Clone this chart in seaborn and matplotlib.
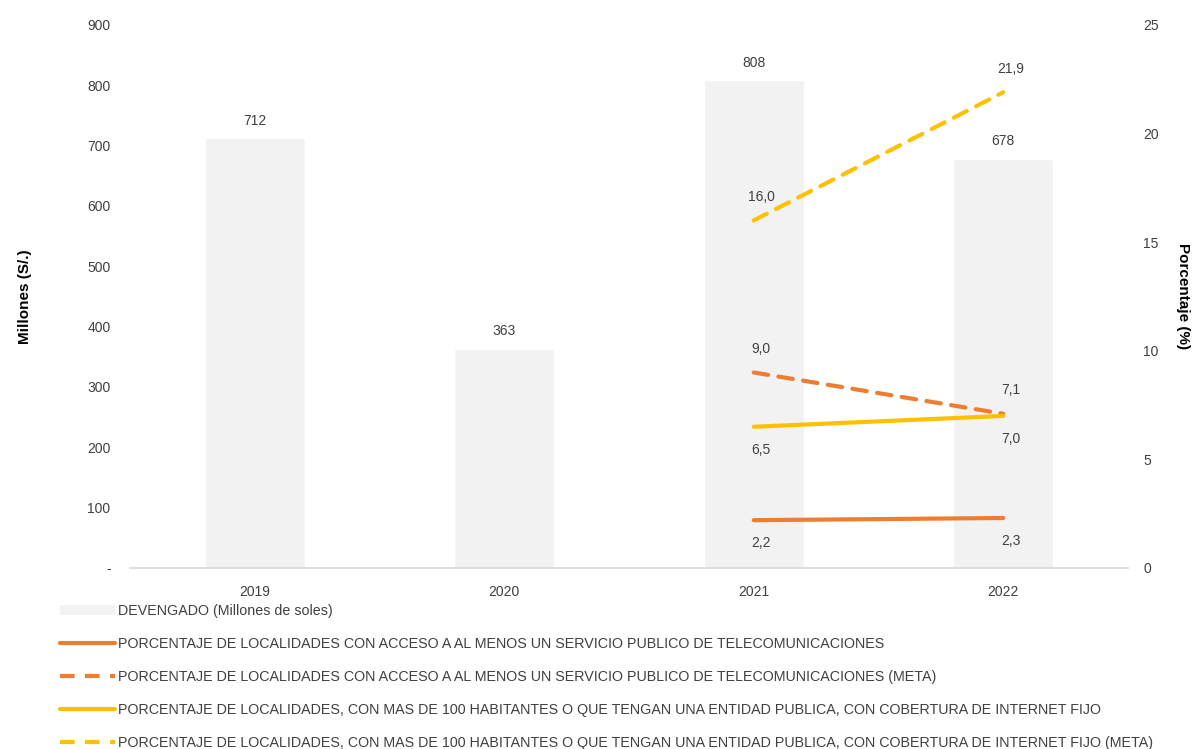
"""Devengado vs. indicadores de cobertura de telecomunicaciones (2019-2022)."""

import matplotlib

matplotlib.use("Agg")

import matplotlib.pyplot as plt
import pandas as pd
import seaborn as sns
from matplotlib.lines import Line2D
from matplotlib.patches import Patch
from matplotlib.ticker import FuncFormatter

# --- data ------------------------------------------------------------------
years = ["2019", "2020", "2021", "2022"]
devengado = [712, 363, 808, 678]

line_years = ["2021", "2022"]
acceso = [2.2, 2.3]
acceso_meta = [9.0, 7.1]
internet = [6.5, 7.0]
internet_meta = [16.0, 21.9]

LBL_BAR = "DEVENGADO (Millones de soles)"
LBL_ACC = "PORCENTAJE DE LOCALIDADES CON ACCESO A AL MENOS UN SERVICIO PUBLICO DE TELECOMUNICACIONES"
LBL_ACC_M = LBL_ACC + " (META)"
LBL_INT = ("PORCENTAJE DE LOCALIDADES, CON MAS DE 100 HABITANTES O QUE TENGAN UNA ENTIDAD PUBLICA, "
           "CON COBERTURA DE INTERNET FIJO")
LBL_INT_M = LBL_INT + " (META)"

ORANGE = "#ED7D31"
YELLOW = "#FFC000"
BAR_GREY = "#F2F2F2"
TEXT = "#404040"

sns.set_theme(style="white")
plt.rcParams["font.family"] = ["Liberation Sans", "DejaVu Sans"]

fig = plt.figure(figsize=(12.01, 7.49), dpi=100)
ax = fig.add_axes([0.1082, 0.2417, 0.831, 0.725])

bars = pd.DataFrame({"year": years, "value": devengado})
sns.barplot(data=bars, x="year", y="value", color=BAR_GREY, saturation=1, width=0.4, ax=ax)
for i, v in enumerate(devengado):
    ax.text(i, v + 18, f"{v}", ha="center", va="bottom", fontsize=10, color=TEXT)

ax.set_ylim(0, 900)
ax.set_yticks(range(0, 901, 100))
ax.yaxis.set_major_formatter(FuncFormatter(lambda v, _: "-" if v == 0 else f"{v:.0f}"))
ax.set_xlim(-0.5, 3.5)
ax.set_xlabel("")
ax.set_ylabel("Millones (S/.)", fontsize=11, fontweight="bold", color="black", labelpad=40)
ax.tick_params(axis="both", length=0, labelsize=10, labelcolor=TEXT)
ax.tick_params(axis="y", pad=14)
ax.tick_params(axis="x", pad=12)
for side in ["top", "right", "left"]:
    ax.spines[side].set_visible(False)
ax.spines["bottom"].set_color("#D9D9D9")

ax2 = ax.twinx()
pos = [years.index(y) for y in line_years]
series = [
    (acceso, ORANGE, "-", "below"),
    (acceso_meta, ORANGE, (3.5, 2.5), "above"),
    (internet, YELLOW, "-", "below"),
    (internet_meta, YELLOW, (3.5, 2.5), "above"),
]
for vals, color, style, where in series:
    df = pd.DataFrame({"x": pos, "y": vals})
    sns.lineplot(data=df, x="x", y="y", color=color, linewidth=3, ax=ax2)
    line = ax2.lines[-1]
    if style != "-":
        line.set_dashes(style)
    line.set_solid_capstyle("round")
    line.set_dash_capstyle("round")
    for x, v in zip(pos, vals):
        dy = 0.75 if where == "above" else -0.75
        ax2.text(x + 0.03, v + dy, f"{v:.1f}".replace(".", ","), ha="center",
                 va="bottom" if where == "above" else "top", fontsize=10, color=TEXT)

ax2.set_ylim(0, 25)
ax2.set_yticks(range(0, 26, 5))
ax2.set_xlim(-0.5, 3.5)
ax2.set_xlabel("")
ax2.set_ylabel("Porcentaje (%)", fontsize=11, fontweight="bold", color="black",
               rotation=270, va="bottom", labelpad=12)
ax2.tick_params(axis="y", length=0, labelsize=10, labelcolor=TEXT, pad=11)
for side in ax2.spines:
    ax2.spines[side].set_visible(False)

handles = [
    Patch(facecolor=BAR_GREY, edgecolor="none", label=LBL_BAR),
    Line2D([], [], color=ORANGE, lw=3, label=LBL_ACC),
    Line2D([], [], color=ORANGE, lw=3, dashes=(3.5, 2.5), label=LBL_ACC_M),
    Line2D([], [], color=YELLOW, lw=3, label=LBL_INT),
    Line2D([], [], color=YELLOW, lw=3, dashes=(3.5, 2.5), label=LBL_INT_M),
]
fig.legend(handles=handles, loc="upper left", bbox_to_anchor=(0.0455, 0.201), frameon=False,
           fontsize=10.3, handlelength=3.85, handletextpad=0.15, labelspacing=1.33,
           labelcolor=TEXT, borderaxespad=0)

fig.savefig("out.png", dpi=100)
